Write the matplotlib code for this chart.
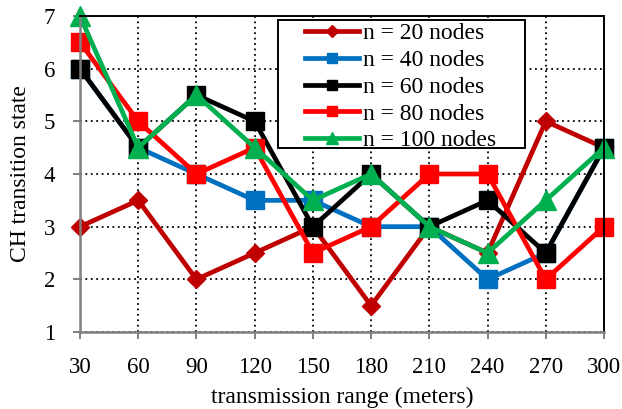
import matplotlib.pyplot as plt
from matplotlib.patches import Rectangle
import numpy as np

plt.rcParams['font.family'] = ['Liberation Serif', 'DejaVu Serif']

rangos = [30, 60, 90, 120, 150, 180, 210, 240, 270, 300]
n20 = [3, 3.5, 2, 2.5, 3, 1.5, 3, 2.5, 5, 4.5]
n40 = [6, 4.5, 4, 3.5, 3.5, 3, 3, 2, 2.5, 4.5]
n60 = [6, 4.5, 5.5, 5, 3, 4, 3, 3.5, 2.5, 4.5]
n80 = [6.5, 5, 4, 4.5, 2.5, 3, 4, 4, 2, 3]
n100 = [7, 4.5, 5.5, 4.5, 3.5, 4, 3, 2.5, 3.5, 4.5]

series = [
    (n20, 'n = 20 nodes', '#C00000', 'D', 9.5),
    (n40, 'n = 40 nodes', '#0070C0', 's', 12.5),
    (n60, 'n = 60 nodes', '#000000', 's', 12.5),
    (n80, 'n = 80 nodes', '#FF0000', 's', 12.5),
    (n100, 'n = 100 nodes', '#00B050', '^', 14),
]

fig = plt.figure(figsize=(6.22, 4.09), dpi=100)
ax = fig.add_axes([80 / 622, 1 - 332 / 409, 524 / 622, 316 / 409])

x = np.arange(len(rangos))
for valores, etiqueta, color, marca, tam in series:
    ax.plot(x, valores, color=color, lw=3.4, marker=marca, ms=tam,
            label=etiqueta, clip_on=False, zorder=2)

ax.set_xlim(0, len(rangos) - 1)
ax.set_ylim(1, 7)
ax.set_xticks(x)
ax.set_xticklabels([str(r) for r in rangos])
ax.set_yticks(range(1, 8))
ax.grid(True, color='black', linestyle=(0, (1, 2)), lw=1.3)
ax.set_axisbelow(True)

for lado in ['left', 'bottom']:
    ax.spines[lado].set_color('#808080')
    ax.spines[lado].set_linewidth(1.8)
for lado in ['top', 'right']:
    ax.spines[lado].set_color('black')
    ax.spines[lado].set_linewidth(1.4)
ax.tick_params(axis='both', colors='#808080', length=5, width=1.4,
               labelsize=16.5, labelcolor='black')
ax.tick_params(axis='x', pad=13)
ax.tick_params(axis='y', pad=13)

ax.set_xlabel('transmission range (meters)', fontsize=17, labelpad=6)
ax.set_ylabel('CH transition state', fontsize=17, labelpad=9)

# marco de la leyenda (estilo Excel, con margen amplio)
marco = Rectangle((278 / 622, 1 - 148 / 409), 247 / 622, 128 / 409,
                  transform=fig.transFigure, facecolor='white',
                  edgecolor='black', lw=1.4, zorder=4, clip_on=False)
ax.add_patch(marco)

leg = ax.legend(loc='upper left', bbox_to_anchor=(0.429, 0.978), fontsize=17,
                frameon=False, handlelength=2.3, handletextpad=0.15,
                labelspacing=0.22, borderpad=0, borderaxespad=0,
                markerscale=0.6)
leg.set_zorder(5)

fig.savefig('out.png', dpi=100)
